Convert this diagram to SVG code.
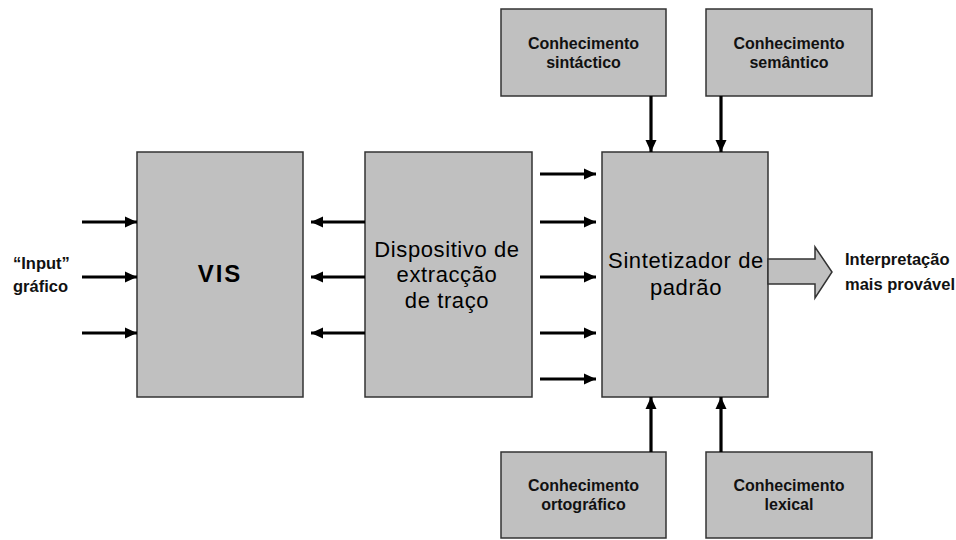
<svg xmlns="http://www.w3.org/2000/svg" width="956" height="540" viewBox="0 0 956 540">
  <defs>
    <marker id="head" markerUnits="userSpaceOnUse" markerWidth="12" markerHeight="12" viewBox="0 0 12 12" refX="12" refY="6" orient="auto">
      <path d="M0,0.5 L12,6 L0,11.5 Z" fill="#000"/>
    </marker>
    <style>
      .box { fill: #c0c0c0; stroke: #333; stroke-width: 1.5; }
      .flow { stroke: #000; stroke-width: 3.2; fill: none; marker-end: url(#head); }
      .big { font-family: "Liberation Sans", Arial, sans-serif; font-size: 22px; fill: #000; text-anchor: middle; letter-spacing: 0.6px; }
      .small { font-family: "Liberation Sans", Arial, sans-serif; font-size: 16px; font-weight: bold; fill: #111; text-anchor: middle; }
      .label { font-family: "Liberation Sans", Arial, sans-serif; font-size: 16.5px; font-weight: bold; fill: #111; }
    </style>
  </defs>
  <rect width="956" height="540" fill="#fff"/>

  <!-- main processing blocks -->
  <g id="vis">
    <rect class="box" x="137" y="152" width="166" height="245"/>
    <text x="220" y="282" font-family="Liberation Sans, Arial, sans-serif" font-size="24" font-weight="bold" text-anchor="middle" letter-spacing="2">VIS</text>
  </g>
  <g id="dispositivo">
    <rect class="box" x="365" y="152" width="167" height="245"/>
    <text class="big" x="447" y="257">Dispositivo de</text>
    <text class="big" x="447" y="282">extracção</text>
    <text class="big" x="447" y="308">de traço</text>
  </g>
  <g id="sintetizador">
    <rect class="box" x="602" y="152" width="166" height="245"/>
    <text class="big" x="686" y="268">Sintetizador de</text>
    <text class="big" x="686" y="295">padrão</text>
  </g>

  <!-- knowledge sources -->
  <g id="sintactico">
    <rect class="box" x="501" y="9" width="165" height="87"/>
    <text class="small" x="583.5" y="49">Conhecimento</text>
    <text class="small" x="583.5" y="68">sintáctico</text>
  </g>
  <g id="semantico">
    <rect class="box" x="706" y="9" width="166" height="87"/>
    <text class="small" x="789" y="49">Conhecimento</text>
    <text class="small" x="789" y="68">semântico</text>
  </g>
  <g id="ortografico">
    <rect class="box" x="501" y="452" width="165" height="86"/>
    <text class="small" x="583.5" y="491">Conhecimento</text>
    <text class="small" x="583.5" y="510">ortográfico</text>
  </g>
  <g id="lexical">
    <rect class="box" x="706" y="452" width="166" height="86"/>
    <text class="small" x="789" y="491">Conhecimento</text>
    <text class="small" x="789" y="510">lexical</text>
  </g>

  <!-- side labels -->
  <g id="input">
    <text class="label" x="13" y="269">“Input”</text>
    <text class="label" x="13" y="292">gráfico</text>
  </g>
  <g id="saida">
    <polygon class="box" points="768,259 815,259 815,247 832,272 815,298 815,284 768,284"/>
    <text class="label" x="845" y="265">Interpretação</text>
    <text class="label" x="845" y="290">mais provável</text>
  </g>

  <!-- connectors -->
  <g id="connectors">
    <line class="flow" x1="82" y1="222" x2="137" y2="222"/>
    <line class="flow" x1="82" y1="277" x2="137" y2="277"/>
    <line class="flow" x1="82" y1="333" x2="137" y2="333"/>

    <line class="flow" x1="365" y1="222" x2="311" y2="222"/>
    <line class="flow" x1="365" y1="277" x2="311" y2="277"/>
    <line class="flow" x1="365" y1="333" x2="311" y2="333"/>

    <line class="flow" x1="540" y1="174" x2="596" y2="174"/>
    <line class="flow" x1="540" y1="222" x2="596" y2="222"/>
    <line class="flow" x1="540" y1="277" x2="596" y2="277"/>
    <line class="flow" x1="540" y1="333" x2="596" y2="333"/>
    <line class="flow" x1="540" y1="379" x2="596" y2="379"/>

    <line class="flow" x1="651" y1="96" x2="651" y2="152"/>
    <line class="flow" x1="721" y1="96" x2="721" y2="152"/>
    <line class="flow" x1="651" y1="452" x2="651" y2="397"/>
    <line class="flow" x1="721" y1="452" x2="721" y2="397"/>
  </g>
</svg>
